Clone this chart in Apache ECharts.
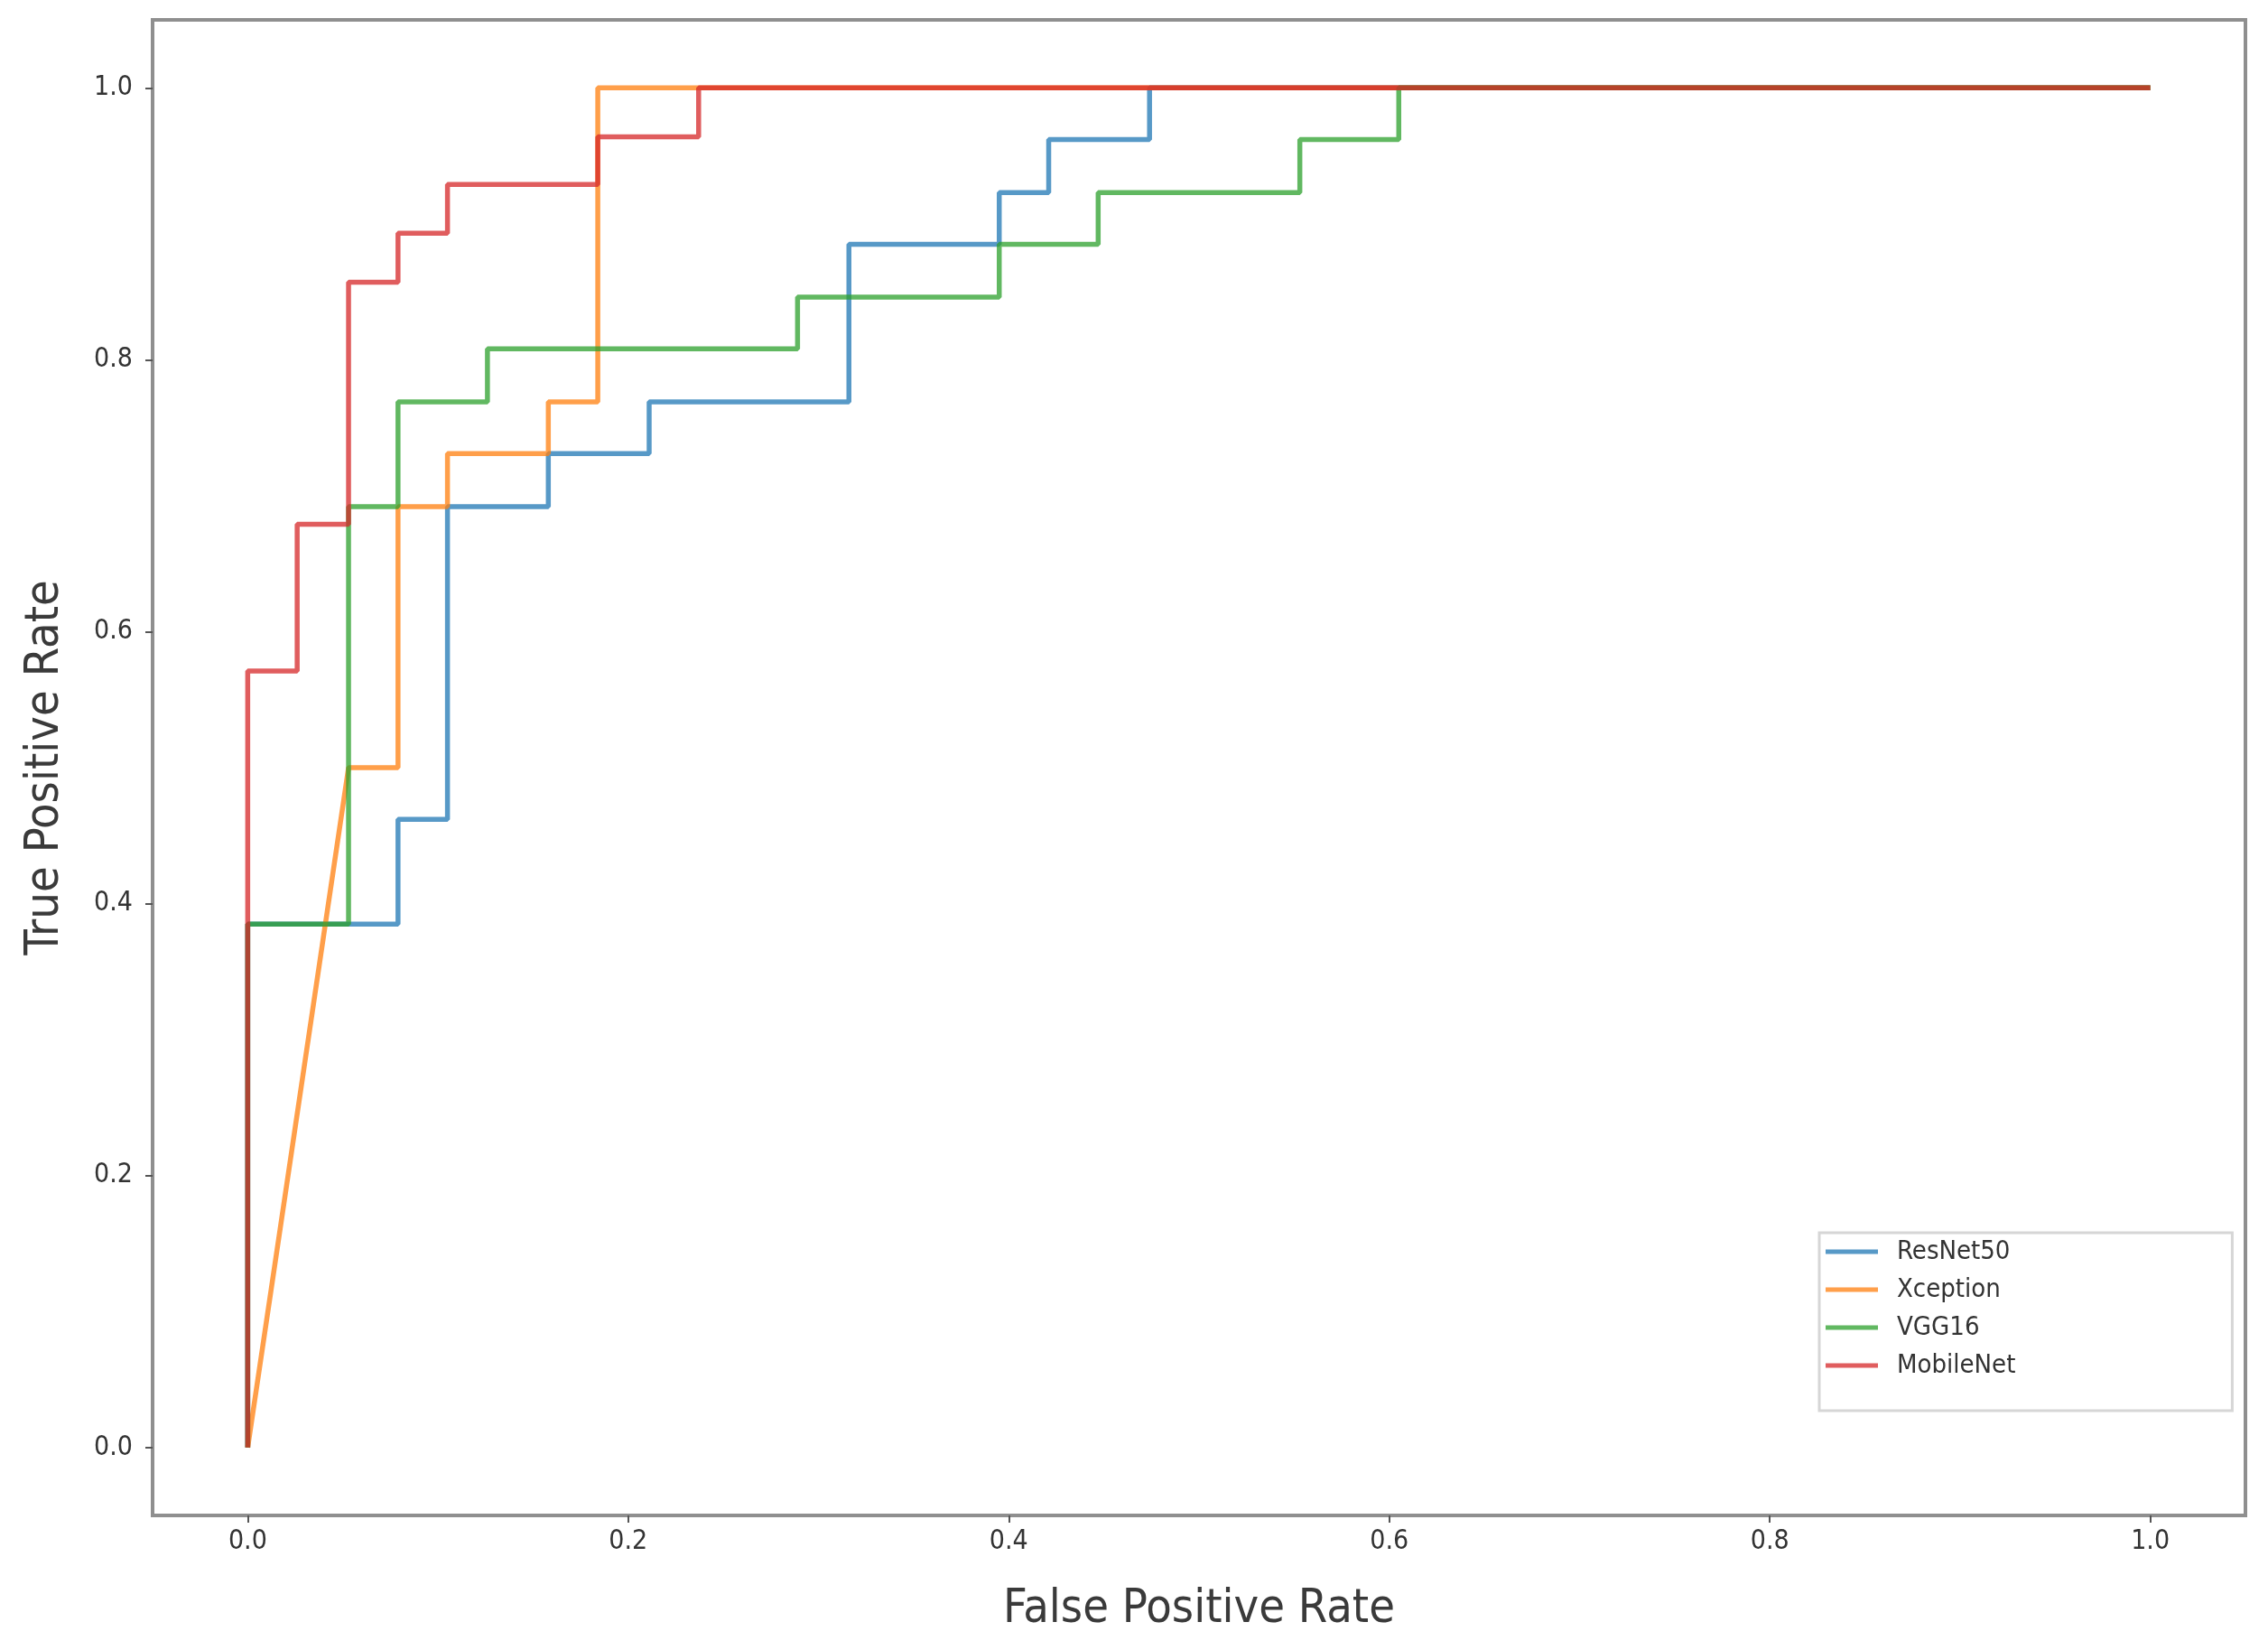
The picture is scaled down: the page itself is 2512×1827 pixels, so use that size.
<!DOCTYPE html>
<html>
<head>
<meta charset="utf-8">
<script src="https://cdn.jsdelivr.net/npm/echarts@6/dist/echarts.min.js"></script>
<style>
html,body{margin:0;padding:0;background:#fff;}
#chart{width:2512px;height:1827px;}
</style>
</head>
<body>
<div id="chart"></div>
<script>
// ---- data ----
const seriesNames = ['ResNet50', 'Xception', 'VGG16', 'MobileNet'];
const tickValues = [0.0, 0.2, 0.4, 0.6, 0.8, 1.0];

const resnetFPR = [0, 0, 0.079, 0.079, 0.105, 0.105, 0.158, 0.158, 0.211, 0.211, 0.316, 0.316, 0.395, 0.395, 0.421, 0.421, 0.474, 0.474, 1.0];
const resnetTPR = [0, 0.385, 0.385, 0.462, 0.462, 0.692, 0.692, 0.731, 0.731, 0.769, 0.769, 0.885, 0.885, 0.923, 0.923, 0.962, 0.962, 1.0, 1.0];

const xceptionFPR = [0, 0.053, 0.079, 0.079, 0.105, 0.105, 0.158, 0.158, 0.184, 0.184, 1.0];
const xceptionTPR = [0, 0.5, 0.5, 0.692, 0.692, 0.731, 0.731, 0.769, 0.769, 1.0, 1.0];

const vggFPR = [0, 0, 0.053, 0.053, 0.079, 0.079, 0.126, 0.126, 0.289, 0.289, 0.395, 0.395, 0.447, 0.447, 0.553, 0.553, 0.605, 0.605, 1.0];
const vggTPR = [0, 0.385, 0.385, 0.692, 0.692, 0.769, 0.769, 0.808, 0.808, 0.846, 0.846, 0.885, 0.885, 0.923, 0.923, 0.962, 0.962, 1.0, 1.0];

const mobileFPR = [0, 0, 0.026, 0.026, 0.053, 0.053, 0.079, 0.079, 0.105, 0.105, 0.184, 0.184, 0.237, 0.237, 1.0];
const mobileTPR = [0, 0.571, 0.571, 0.679, 0.679, 0.857, 0.857, 0.893, 0.893, 0.929, 0.929, 0.964, 0.964, 1.0, 1.0];

const colors = ['rgba(31,119,180,0.75)', 'rgba(255,127,14,0.75)', 'rgba(44,160,44,0.75)', 'rgba(214,39,40,0.75)'];

function zip(xs, ys) { return xs.map((x, i) => [x, ys[i]]); }
const allData = [zip(resnetFPR, resnetTPR), zip(xceptionFPR, xceptionTPR), zip(vggFPR, vggTPR), zip(mobileFPR, mobileTPR)];

const font = "'DejaVu Sans Condensed', 'DejaVu Sans', sans-serif";

const chart = echarts.init(document.getElementById('chart'), null, {renderer: 'canvas'});
const option = {
  backgroundColor: '#ffffff',
  animation: false,
  color: colors,
  grid: {
    left: 169, right: 25, top: 22, bottom: 149,
    show: true, borderColor: '#8f8f8f', borderWidth: 4, backgroundColor: 'transparent'
  },
  xAxis: {
    type: 'value', min: -0.05, max: 1.05,
    name: 'False Positive Rate', nameLocation: 'middle', nameGap: 78,
    nameTextStyle: {fontFamily: font, fontSize: 52, color: '#3a3a3a'},
    axisLine: {show: false, onZero: false},
    splitLine: {show: false},
    axisTick: {show: true, customValues: tickValues, length: 8, lineStyle: {color: '#555', width: 2}},
    axisLabel: {customValues: tickValues, margin: 14, fontFamily: font, fontSize: 30, color: '#333',
      formatter: v => v.toFixed(1)}
  },
  yAxis: {
    type: 'value', min: -0.05, max: 1.05,
    name: 'True Positive Rate', nameLocation: 'middle', nameGap: 93,
    nameTextStyle: {fontFamily: font, fontSize: 52, color: '#3a3a3a'},
    axisLine: {show: false, onZero: false},
    splitLine: {show: false},
    axisTick: {show: true, customValues: tickValues, length: 8, lineStyle: {color: '#555', width: 2}},
    axisLabel: {customValues: tickValues, margin: 22, fontFamily: font, fontSize: 30, color: '#333',
      formatter: v => v.toFixed(1)}
  },
  legend: {
    orient: 'vertical', left: 2015, top: 1365,
    data: seriesNames.map(n => ({name: n, icon: 'rect'})),
    itemWidth: 58, itemHeight: 5, itemGap: 12,
    padding: [6, 240, 35, 7],
    borderColor: '#d6d6d6', borderWidth: 3, backgroundColor: '#fff',
    textStyle: {fontFamily: font, fontSize: 29, color: '#333', lineHeight: 30, padding: [0, 0, 0, 16]}
  },
  series: seriesNames.map((n, i) => ({
    name: n, type: 'line', data: allData[i],
    showSymbol: false, symbol: 'none',
    lineStyle: {width: 5.5, color: colors[i]},
    itemStyle: {color: colors[i]},
    z: 2 + i
  }))
};
chart.setOption(option);
</script>
</body>
</html>
